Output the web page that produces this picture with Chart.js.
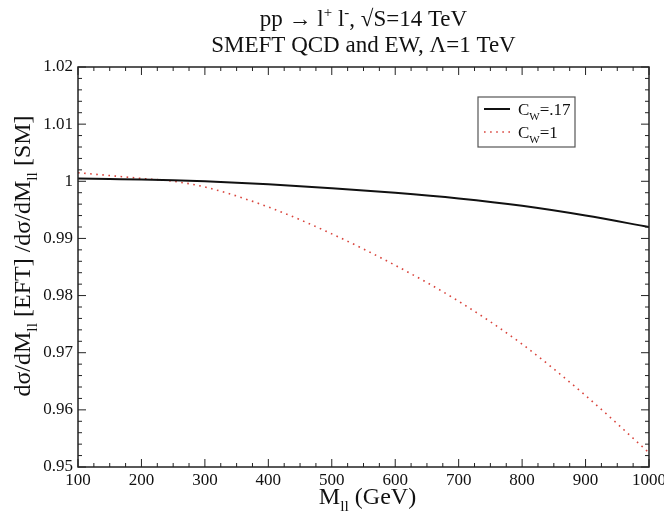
<!DOCTYPE html>
<html>
<head>
<meta charset="utf-8">
<script src="https://cdn.jsdelivr.net/npm/chart.js@4/dist/chart.umd.min.js"></script>
<style>
  html, body { margin: 0; padding: 0; background: #fff; }
  #wrap { width: 664px; height: 517px; }
</style>
</head>
<body>
<div id="wrap"><canvas id="js-chart" width="664" height="517"></canvas></div>
<script>
"use strict";

const mll = [100, 150, 200, 250, 300, 400, 500, 600, 700, 800, 900, 1000];
// C_W = .17 (solid black)
const cw017 = [1.0005, 1.0004, 1.0003, 1.0002, 1.0000, 0.9995, 0.9988, 0.9980, 0.9970, 0.9957, 0.9940, 0.9920];
// C_W = 1 (dotted red)
const cw1 = [1.0015, 1.0010, 1.0005, 1.0000, 0.9990, 0.9955, 0.9908, 0.9853, 0.9790, 0.9715, 0.9625, 0.9525];

const xTicks = [100, 200, 300, 400, 500, 600, 700, 800, 900, 1000];
const yTicks = [0.95, 0.96, 0.97, 0.98, 0.99, 1, 1.01, 1.02];

const SERIF = "'Liberation Serif', 'DejaVu Serif', serif";

// draws a line of text made of parts, some of them sub/superscripts
function drawRich(ctx, parts, x, y, size, align) {
  let w = 0;
  parts.forEach(p => {
    ctx.font = (p.sub || p.sup ? size * 0.65 : size) + "px " + SERIF;
    p.w = ctx.measureText(p.t).width;
    w += p.w;
  });
  let cx = align === "center" ? x - w / 2 : (align === "right" ? x - w : x);
  ctx.textAlign = "left";
  ctx.textBaseline = "alphabetic";
  parts.forEach(p => {
    ctx.font = (p.sub || p.sup ? size * 0.65 : size) + "px " + SERIF;
    let dy = p.sub ? size * 0.28 : (p.sup ? -size * 0.38 : 0);
    ctx.fillText(p.t, cx, y + dy);
    cx += p.w;
  });
}

const decorations = {
  id: "decorations",
  afterDraw(chart) {
    const ctx = chart.ctx;
    const a = chart.chartArea;
    const xs = chart.scales.x, ys = chart.scales.y;
    ctx.save();
    ctx.strokeStyle = "#222";
    ctx.fillStyle = "#111";

    // frame
    ctx.lineWidth = 1.5;
    ctx.strokeRect(a.left, a.top, a.right - a.left, a.bottom - a.top);

    // inward ticks on all four sides
    ctx.lineWidth = 1;
    ctx.beginPath();
    for (let v = 100; v <= 1000; v += 25) {
      const px = xs.getPixelForValue(v);
      const len = v % 100 === 0 ? 8 : 4;
      ctx.moveTo(px, a.bottom); ctx.lineTo(px, a.bottom - len);
      ctx.moveTo(px, a.top); ctx.lineTo(px, a.top + len);
    }
    for (let i = 0; i <= 35; i++) {
      const v = 0.95 + i * 0.002;
      const py = ys.getPixelForValue(v);
      const len = i % 5 === 0 ? 8 : 4;
      ctx.moveTo(a.left, py); ctx.lineTo(a.left + len, py);
      ctx.moveTo(a.right, py); ctx.lineTo(a.right - len, py);
    }
    ctx.stroke();

    // title
    const cx = (a.left + a.right) / 2;
    drawRich(ctx, [{ t: "pp \u2192 l" }, { t: "+", sup: true }, { t: " l" }, { t: "-", sup: true }, { t: ", \u221AS=14 TeV" }], cx, 26, 23, "center");
    drawRich(ctx, [{ t: "SMEFT QCD and EW, \u039B=1 TeV" }], cx, 52, 23, "center");

    // x axis title
    drawRich(ctx, [{ t: "M" }, { t: "ll", sub: true }, { t: " (GeV)" }], cx + 4, 504, 24, "center");

    // y axis title
    ctx.save();
    ctx.translate(30, 256);
    ctx.rotate(-Math.PI / 2);
    drawRich(ctx, [{ t: "d\u03C3/dM" }, { t: "ll", sub: true }, { t: " [EFT] /d\u03C3/dM" }, { t: "ll", sub: true }, { t: " [SM]" }], 0, 0, 24, "center");
    ctx.restore();

    // legend
    const lx = 478, ly = 97;
    ctx.lineWidth = 1.2;
    ctx.strokeStyle = "#555";
    ctx.strokeRect(lx, ly, 97, 50);
    chart.data.datasets.forEach((ds, i) => {
      const y = ly + 12 + i * 23;
      ctx.beginPath();
      ctx.strokeStyle = ds.borderColor;
      ctx.lineWidth = ds.borderWidth;
      ctx.setLineDash(ds.borderDash || []);
      ctx.moveTo(lx + 6, y);
      ctx.lineTo(lx + 32, y);
      ctx.stroke();
      ctx.setLineDash([]);
      ctx.fillStyle = "#111";
      drawRich(ctx, [{ t: "C" }, { t: "W", sub: true }, { t: "=" + ds.label.split("=")[1] }], lx + 40, y + 6, 17, "left");
    });
    ctx.restore();
  }
};

let ctx = document.getElementById("js-chart").getContext("2d");
let myChart = new Chart(ctx, {
  type: "line",
  data: {
    datasets: [
      {
        label: "C_W=.17",
        data: mll.map((m, i) => ({ x: m, y: cw017[i] })),
        borderColor: "#111",
        borderWidth: 2,
        pointRadius: 0,
        cubicInterpolationMode: "monotone",
        fill: false,
      },
      {
        label: "C_W=1",
        data: mll.map((m, i) => ({ x: m, y: cw1[i] })),
        borderColor: "#d9443c",
        borderWidth: 1.6,
        borderDash: [1.6, 4.5],
        pointRadius: 0,
        cubicInterpolationMode: "monotone",
        fill: false,
      },
    ],
  },
  options: {
    responsive: false,
    animation: false,
    layout: { padding: { top: 67, right: 15, left: 0, bottom: 0 } },
    plugins: {
      legend: { display: false },
      title: { display: false },
      tooltip: { enabled: false },
    },
    scales: {
      x: {
        type: "linear",
        min: 100,
        max: 1000,
        afterBuildTicks: s => { s.ticks = xTicks.map(v => ({ value: v })); },
        afterFit: s => { s.height = 50; s.paddingLeft = 0; s.paddingRight = 0; },
        grid: { display: false, drawTicks: false },
        border: { display: false },
        ticks: {
          color: "#111",
          padding: 3,
          maxRotation: 0,
          font: { family: SERIF, size: 17 },
          callback: v => String(v),
        },
      },
      y: {
        type: "linear",
        min: 0.95,
        max: 1.02,
        afterBuildTicks: s => { s.ticks = yTicks.map(v => ({ value: v })); },
        afterFit: s => { s.width = 78; s.paddingTop = 0; s.paddingBottom = 0; },
        grid: { display: false, drawTicks: false },
        border: { display: false },
        ticks: {
          color: "#111",
          padding: 5,
          font: { family: SERIF, size: 17 },
          callback: v => String(Number(v.toFixed(2))),
        },
      },
    },
  },
  plugins: [decorations],
});
</script>
</body>
</html>
